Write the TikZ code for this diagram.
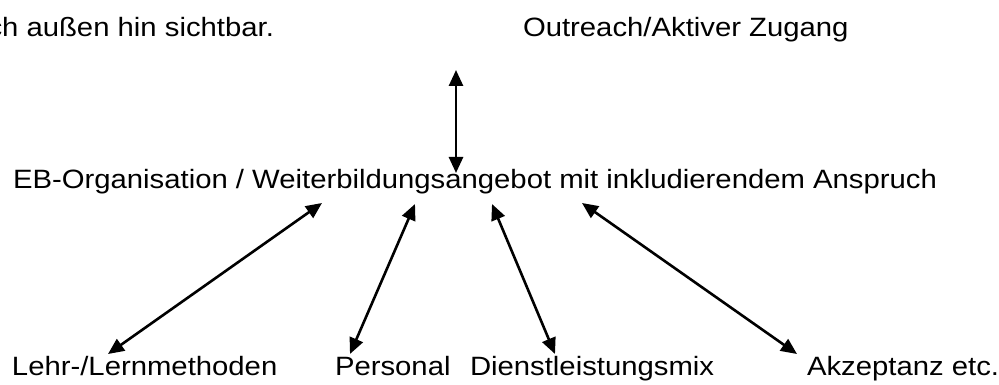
\documentclass[tikz,border=0pt]{standalone}
\usepackage{fontspec}
\setmainfont{Liberation Sans}
\usetikzlibrary{arrows.meta}
\newcommand{\wtxt}[1]{\scalebox{1.105}[1]{#1}}
\begin{document}
\begin{tikzpicture}[x=1pt,y=-1pt,
  lbl/.style={inner sep=0pt, outer sep=0pt, font=\fontsize{26.5}{31}\selectfont},
  link/.style={line width=2.6pt, {Triangle[length=16pt,width=14pt]}-{Triangle[length=16pt,width=14pt]}}]
\useasboundingbox[fill=white] (0,0) rectangle (999,385);
\node[lbl, anchor=base east] (sicht) at (274,37) {\wtxt{ch außen hin sichtbar.}};
\node[lbl, anchor=base west] (outreach) at (523,37) {\wtxt{Outreach/Aktiver Zugang}};
\node[lbl, anchor=base west] (eb) at (13,189) {\wtxt{EB-Organisation / Weiterbildungsangebot mit inkludierendem Anspruch}};
\node[lbl, anchor=base west] (lehr) at (12,375) {\wtxt{Lehr-/Lernmethoden}};
\node[lbl, anchor=base west] (pers) at (335,375) {\wtxt{Personal}};
\node[lbl, anchor=base west] (dienst) at (470,375) {\wtxt{Dienstleistungsmix}};
\node[lbl, anchor=base west] (akz) at (807,375) {\wtxt{Akzeptanz etc.}};
\coordinate (vtop) at (456,70);
\coordinate (vbot) at (456,173);
\coordinate (lehrA) at (322,203);
\coordinate (lehrB) at (108,354);
\coordinate (persA) at (415,204);
\coordinate (persB) at (350,354);
\coordinate (dienstA) at (492,204);
\coordinate (dienstB) at (555,354);
\coordinate (akzA) at (582,203);
\coordinate (akzB) at (797,354);
\draw[link] (vtop) -- (vbot);
\draw[link] (lehrA) -- (lehrB);
\draw[link] (persA) -- (persB);
\draw[link] (dienstA) -- (dienstB);
\draw[link] (akzA) -- (akzB);
\end{tikzpicture}
\end{document}
